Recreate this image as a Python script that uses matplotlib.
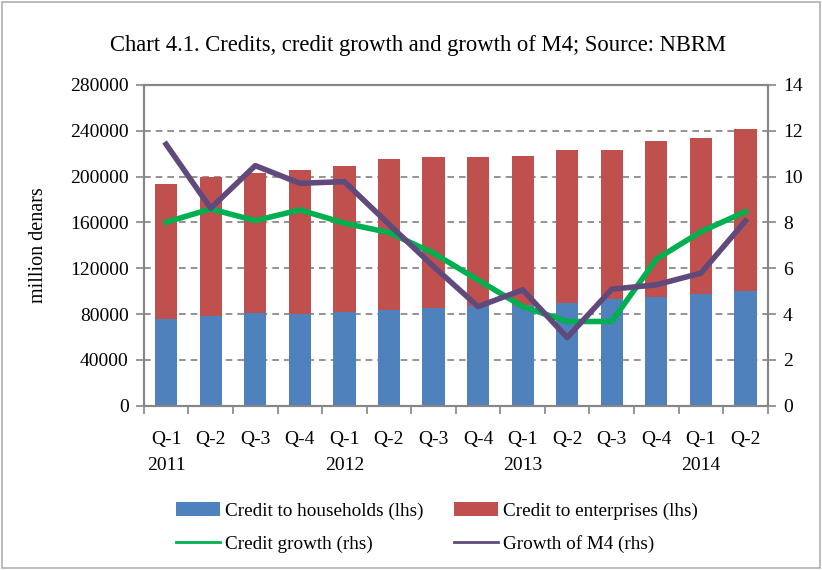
import numpy as np
import matplotlib.pyplot as plt
from matplotlib.patches import Rectangle
from matplotlib.lines import Line2D

quarters = ["Q-1", "Q-2", "Q-3", "Q-4"] * 3 + ["Q-1", "Q-2"]
years = {0: "2011", 4: "2012", 8: "2013", 12: "2014"}

households = [75900, 78500, 80900, 80200, 82000, 83700, 85500, 87200,
              88000, 89800, 93600, 95100, 98000, 100600]
total_credit = [193600, 199700, 203200, 205900, 209300, 215400, 217200, 217200,
                218100, 223300, 223300, 231100, 233800, 241600]
enterprises = [t - h for t, h in zip(total_credit, households)]

credit_growth = [8.01, 8.59, 8.08, 8.55, 7.97, 7.56, 6.66, 5.49,
                 4.33, 3.68, 3.68, 6.40, 7.60, 8.47]
m4_growth = [11.41, 8.62, 10.48, 9.71, 9.78, 7.92, 6.08, 4.33,
             5.06, 2.98, 5.09, 5.28, 5.79, 8.07]

plt.rcParams['font.family'] = ['Liberation Serif', 'DejaVu Serif']
plt.rcParams['font.size'] = 14

fig = plt.figure(figsize=(8.22, 5.70), dpi=100)
ax = fig.add_axes([0.175, 0.288, 0.759, 0.563])
ax2 = ax.twinx()

x = np.arange(len(quarters))
ax.bar(x, households, width=0.5, color="#4f81bd", label="Credit to households (lhs)", zorder=2)
ax.bar(x, enterprises, width=0.5, bottom=households, color="#c0504d",
       label="Credit to enterprises (lhs)", zorder=2)

ax2.plot(x, credit_growth, color="#00b050", linewidth=4, label="Credit growth (rhs)")
ax2.plot(x, m4_growth, color="#604a7b", linewidth=4, label="Growth of M4 (rhs)")

ax.set_xlim(-0.5, len(quarters) - 0.5)
ax.set_ylim(0, 280000)
ax.set_yticks(np.arange(0, 280001, 40000))
ax2.set_ylim(0, 14)
ax2.set_yticks(np.arange(0, 15, 2))

for v in np.arange(40000, 280000, 40000):
    ax.axhline(v, color="#808080", linestyle=(0, (4, 3)), linewidth=1.2, zorder=1)

labels = [q + ("\n" + years[i] if i in years else "\n") for i, q in enumerate(quarters)]
ax.set_xticks(x)
ax.set_xticklabels(labels, linespacing=1.7)
ax.tick_params(axis="x", length=0, pad=18)
ax.set_xticks(np.arange(-0.5, len(quarters), 1), minor=True)
ax.tick_params(axis="x", which="minor", length=6, color="#868686", width=1.2)

ax.tick_params(axis="y", length=6, color="#868686", width=1.2, pad=5)
ax2.tick_params(axis="y", length=6, color="#868686", width=1.2, pad=5)

for a in (ax, ax2):
    for s in a.spines.values():
        s.set_color("#868686")
        s.set_linewidth(1.5)

ax.set_ylabel("million denars", labelpad=16, fontsize=14.5)
fig.text(0.508, 0.91, "Chart 4.1. Credits, credit growth and growth of M4; Source: NBRM",
         ha="center", fontsize=16.3)

h1, l1 = ax.get_legend_handles_labels()
h2, l2 = ax2.get_legend_handles_labels()
handles = [h1[0], Line2D([], [], color="#00b050", linewidth=2),
           h1[1], Line2D([], [], color="#604a7b", linewidth=2)]
labs = [l1[0], l2[0], l1[1], l2[1]]
fig.legend(handles, labs, ncol=2, loc="center", bbox_to_anchor=(0.532, 0.074),
           frameon=False, fontsize=13.8, handlelength=2.25, handleheight=0.75,
           columnspacing=1.6, labelspacing=0.8, handletextpad=0.3)

fig.patches.append(Rectangle((0.003, 0.003), 0.994, 0.994, transform=fig.transFigure,
                             fill=False, edgecolor="#b0b0b0", linewidth=1.2))

fig.savefig("out.png", dpi=100)
